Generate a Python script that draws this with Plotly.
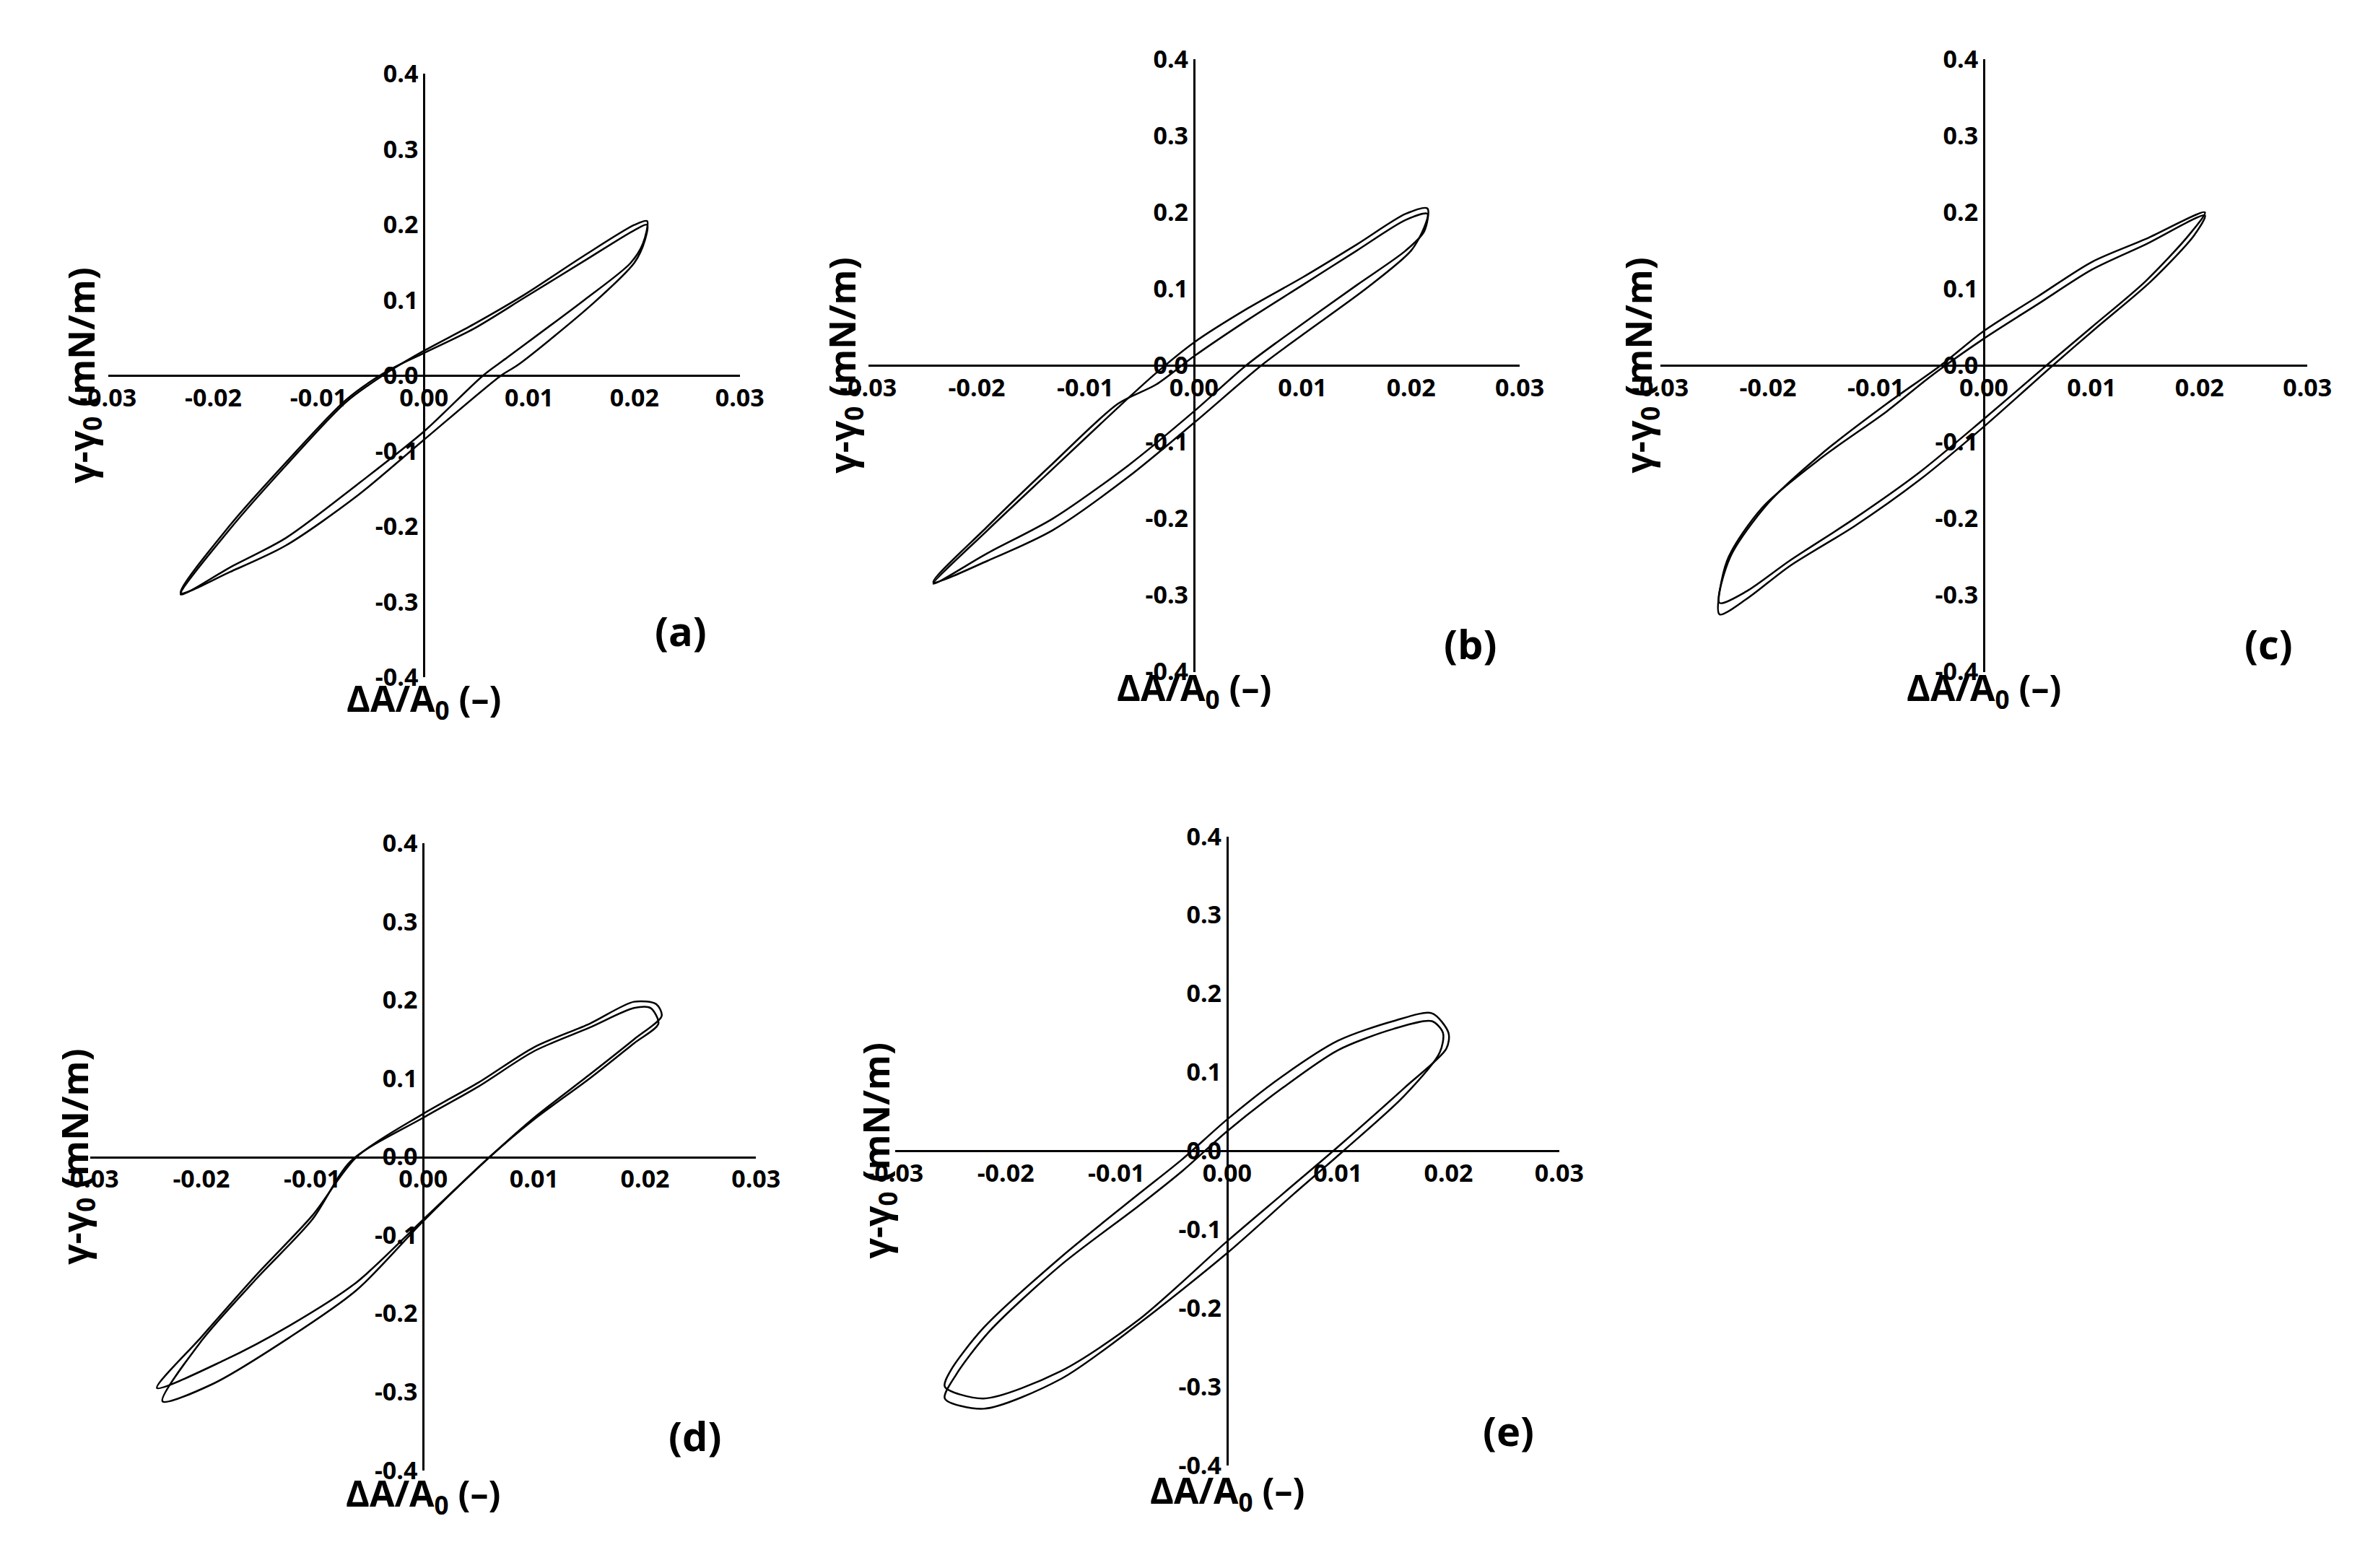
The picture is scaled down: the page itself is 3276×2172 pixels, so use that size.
import plotly.graph_objects as go

W, H = 3276, 2172
x_ticks = [-0.03, -0.02, -0.01, 0.00, 0.01, 0.02, 0.03]
y_ticks = [-0.4, -0.3, -0.2, -0.1, 0.0, 0.1, 0.2, 0.3, 0.4]
x_tick_text = ["-0.03", "-0.02", "-0.01", "0.00", "0.01", "0.02", "0.03"]
y_tick_text = ["-0.4", "-0.3", "-0.2", "-0.1", "0.0", "0.1", "0.2", "0.3", "0.4"]
panel_labels = ["(a)", "(b)", "(c)", "(d)", "(e)"]

# loops: each cycle is a list of (x, y) going upper branch left->right then lower branch right->left
a1_x = [-0.0231, -0.0184, -0.0131, -0.0074, -0.0035, 0.0, 0.0047, 0.0095, 0.0152, 0.0200, 0.0212, 0.0208, 0.0196, 0.0152, 0.0080, 0.0056, 0.0, -0.0064, -0.0131, -0.0184, -0.0231]
a1_y = [-0.290, -0.203, -0.119, -0.035, 0.004, 0.033, 0.068, 0.107, 0.159, 0.200, 0.205, 0.175, 0.149, 0.100, 0.025, 0.0, -0.074, -0.145, -0.215, -0.254, -0.290]
a2_x = [-0.0231, -0.0184, -0.0131, -0.0074, -0.0035, 0.0, 0.0047, 0.0095, 0.0152, 0.0200, 0.0212, 0.0210, 0.0200, 0.0160, 0.0090, 0.0073, 0.0, -0.0064, -0.0131, -0.0184, -0.0231]
a2_y = [-0.288, -0.198, -0.115, -0.032, 0.006, 0.030, 0.062, 0.103, 0.152, 0.193, 0.200, 0.180, 0.150, 0.095, 0.015, 0.0, -0.085, -0.160, -0.225, -0.260, -0.288]

b1_x = [-0.0240, -0.0190, -0.0130, -0.0070, -0.0035, 0.0, 0.0050, 0.0100, 0.0150, 0.0195, 0.0215, 0.0212, 0.0195, 0.0150, 0.0080, 0.0048, 0.0, -0.0060, -0.0130, -0.0190, -0.0240]
b1_y = [-0.285, -0.215, -0.135, -0.055, -0.010, 0.030, 0.075, 0.115, 0.158, 0.198, 0.205, 0.175, 0.150, 0.105, 0.034, 0.0, -0.060, -0.130, -0.200, -0.245, -0.285]
b2_x = [-0.0240, -0.0190, -0.0130, -0.0070, -0.0035, 0.0, 0.0050, 0.0100, 0.0150, 0.0195, 0.0215, 0.0212, 0.0200, 0.0160, 0.0100, 0.0062, 0.0, -0.0060, -0.0130, -0.0190, -0.0240]
b2_y = [-0.283, -0.210, -0.128, -0.050, -0.025, 0.012, 0.060, 0.105, 0.150, 0.190, 0.198, 0.180, 0.150, 0.102, 0.040, 0.0, -0.075, -0.145, -0.215, -0.255, -0.283]

c1_x = [-0.0245, -0.0235, -0.0200, -0.0150, -0.0090, -0.0040, 0.0, 0.0050, 0.0100, 0.0150, 0.0205, 0.0190, 0.0150, 0.0100, 0.0058, 0.0, -0.0060, -0.0120, -0.0180, -0.0220, -0.0245]
c1_y = [-0.310, -0.250, -0.180, -0.115, -0.050, 0.0, 0.045, 0.090, 0.135, 0.165, 0.200, 0.170, 0.110, 0.050, 0.0, -0.070, -0.140, -0.200, -0.255, -0.295, -0.310]
c2_x = [-0.0245, -0.0238, -0.0205, -0.0150, -0.0090, -0.0050, 0.0, 0.0050, 0.0100, 0.0150, 0.0205, 0.0195, 0.0155, 0.0105, 0.0064, 0.0, -0.0060, -0.0120, -0.0180, -0.0220, -0.0245]
c2_y = [-0.325, -0.255, -0.185, -0.120, -0.060, -0.015, 0.035, 0.080, 0.125, 0.158, 0.196, 0.170, 0.110, 0.050, 0.0, -0.080, -0.150, -0.210, -0.262, -0.305, -0.325]

d1_x = [-0.0240, -0.0200, -0.0150, -0.0100, -0.0060, 0.0, 0.0050, 0.0100, 0.0150, 0.0190, 0.0210, 0.0215, 0.0190, 0.0150, 0.0100, 0.0060, 0.0, -0.0060, -0.0120, -0.0180, -0.0240]
d1_y = [-0.295, -0.230, -0.150, -0.075, 0.0, 0.055, 0.095, 0.140, 0.170, 0.198, 0.195, 0.180, 0.150, 0.105, 0.050, 0.0, -0.080, -0.160, -0.215, -0.260, -0.295]
d2_x = [-0.0235, -0.0200, -0.0150, -0.0100, -0.0065, 0.0, 0.0050, 0.0100, 0.0150, 0.0190, 0.0205, 0.0212, 0.0190, 0.0150, 0.0100, 0.0060, 0.0, -0.0060, -0.0120, -0.0190, -0.0235]
d2_y = [-0.312, -0.235, -0.155, -0.080, -0.005, 0.050, 0.090, 0.135, 0.165, 0.190, 0.190, 0.170, 0.145, 0.100, 0.048, 0.0, -0.082, -0.170, -0.230, -0.290, -0.312]

e1_x = [-0.0255, -0.0250, -0.0220, -0.0150, -0.0080, -0.0040, 0.0, 0.0050, 0.0100, 0.0150, 0.0185, 0.0200, 0.0198, 0.0160, 0.0100, 0.0050, 0.0, -0.0080, -0.0150, -0.0220, -0.0255]
e1_y = [-0.300, -0.280, -0.225, -0.135, -0.055, -0.010, 0.040, 0.095, 0.140, 0.165, 0.175, 0.150, 0.130, 0.080, 0.005, -0.055, -0.115, -0.215, -0.280, -0.315, -0.300]
e2_x = [-0.0255, -0.0245, -0.0215, -0.0150, -0.0080, -0.0040, 0.0, 0.0050, 0.0100, 0.0150, 0.0185, 0.0195, 0.0192, 0.0160, 0.0105, 0.0060, 0.0, -0.0080, -0.0150, -0.0220, -0.0255]
e2_y = [-0.315, -0.285, -0.230, -0.145, -0.070, -0.025, 0.025, 0.080, 0.128, 0.155, 0.165, 0.150, 0.125, 0.070, 0.0, -0.055, -0.130, -0.220, -0.290, -0.328, -0.315]

cycles = [[(a1_x, a1_y), (a2_x, a2_y)], [(b1_x, b1_y), (b2_x, b2_y)], [(c1_x, c1_y), (c2_x, c2_y)],
          [(d1_x, d1_y), (d2_x, d2_y)], [(e1_x, e1_y), (e2_x, e2_y)]]

# pixel boxes (left, right, top, bottom) of plot areas
boxes = [(105, 1000, 72, 926), (1182, 2105, 51, 918), (2304, 3221, 51, 918),
         (80, 1023, 1161, 2048), (1220, 2161, 1151, 2041)]
ytitle_x = [-0.084, -0.08, -0.074, -0.064, -0.068]
xtitle_y = [-0.085, -0.075, -0.075, -0.085, -0.087]
label_pos = [(0.95, 0.03), (0.967, 0.0), (0.98, 0.0), (0.95, 0.01), (0.964, 0.01)]

fig = go.Figure()
font = "Open Sans"
annotations = []
for i, (box, cyc) in enumerate(zip(boxes, cycles)):
    l, r, t, b = box
    xd = [l / W, r / W]
    yd = [1 - b / H, 1 - t / H]
    n = "" if i == 0 else str(i + 1)
    for cx, cy in cyc:
        fig.add_trace(go.Scatter(x=cx, y=cy, mode="lines", line=dict(color="black", width=2.5, shape="spline", smoothing=0.8),
                                 xaxis="x" + n, yaxis="y" + n, showlegend=False, hoverinfo="skip"))
    ax = dict(domain=xd, range=[-0.03, 0.03], anchor="free", position=(yd[0] + yd[1]) / 2,
              showline=True, linecolor="black", linewidth=3, showgrid=False, zeroline=False,
              tickvals=x_ticks, ticktext=x_tick_text, ticks="",
              tickfont=dict(family=font, size=34, color="black", weight="bold"))
    ay = dict(domain=yd, range=[-0.4, 0.4], anchor="free", position=(xd[0] + xd[1]) / 2,
              showline=True, linecolor="black", linewidth=3, showgrid=False, zeroline=False,
              tickvals=y_ticks, ticktext=y_tick_text, ticks="",
              tickfont=dict(family=font, size=34, color="black", weight="bold"))
    fig.update_layout(**{"xaxis" + n: ax, "yaxis" + n: ay})
    xr = "x" + n + " domain"
    yr = "y" + n + " domain"
    annotations.append(dict(text="γ-γ<sub>0</sub> (mN/m)", textangle=-90, xref=xr, yref=yr, x=ytitle_x[i], y=0.5,
                            showarrow=False, font=dict(family=font, size=50, color="black", weight="bold")))
    annotations.append(dict(text="ΔA/A<sub>0</sub> (–)", xref=xr, yref=yr, x=0.5, y=xtitle_y[i],
                            showarrow=False, font=dict(family=font, size=50, color="black", weight="bold")))
    annotations.append(dict(text=panel_labels[i], xref=xr, yref=yr, x=label_pos[i][0], y=label_pos[i][1],
                            showarrow=False, font=dict(family=font, size=56, color="black", weight="bold")))

fig.update_layout(width=W, height=H, margin=dict(l=0, r=0, t=0, b=0), plot_bgcolor="white",
                  paper_bgcolor="white", annotations=annotations)
fig.write_html("out.html")
